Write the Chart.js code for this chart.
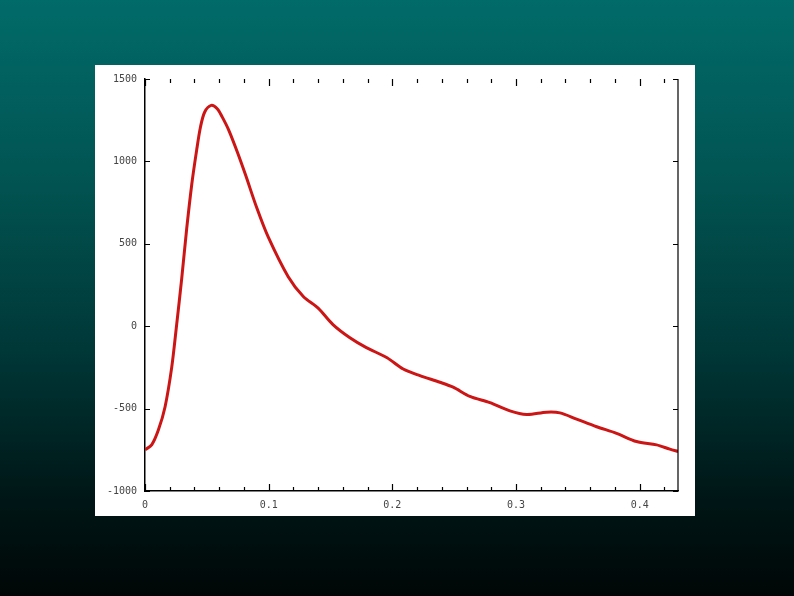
<!DOCTYPE html>
<html>
<head>
<meta charset="utf-8">
<script src="https://cdn.jsdelivr.net/npm/chart.js@4.4.1/dist/chart.umd.min.js"></script>
<style>
  html, body { margin: 0; padding: 0; }
  body {
    width: 794px; height: 596px; overflow: hidden; position: relative;
    background: linear-gradient(to bottom, #016b69 0%, #015452 30%, #003636 60%, #001818 82%, #000606 100%);
  }
  #panel { position: absolute; left: 95px; top: 65px; width: 600px; height: 451px; background: #fff; }
  #panel canvas { display: block; }
</style>
</head>
<body>
<div id="panel"><canvas id="chart" width="600" height="451"></canvas></div>
<script>
// curve
const timeS = [0, 0.0054, 0.0108, 0.0162, 0.0216, 0.0256, 0.0297, 0.0337, 0.0378, 0.0418, 0.0449, 0.0483,
  0.0535, 0.0584, 0.0624, 0.0677, 0.0745, 0.0812, 0.0903, 0.0997, 0.1158, 0.128, 0.14, 0.152, 0.1657, 0.179,
  0.1954, 0.2088, 0.2223, 0.2385, 0.2492, 0.2627, 0.2789, 0.2951, 0.3086, 0.3247, 0.3355, 0.349,
  0.3652, 0.3813, 0.3975, 0.4137, 0.4244, 0.4311];
const signal = [-750, -720, -630, -490, -250, 10, 290, 590, 860, 1070, 1210, 1300,
  1340, 1320, 1270, 1190, 1060, 920, 720, 540, 300, 180, 110, 10, -70, -130,
  -190, -260, -300, -340, -370, -426, -464, -514, -536, -522, -526, -564,
  -610, -650, -700, -720, -746, -760];

const xLabels = [0, 0.1, 0.2, 0.3, 0.4];
const xMinor = [0.02, 0.04, 0.06, 0.08, 0.12, 0.14, 0.16, 0.18, 0.22, 0.24, 0.26, 0.28,
  0.32, 0.34, 0.36, 0.38, 0.42];
const yLabels = [1500, 1000, 500, 0, -500, -1000];

// inward tick marks on all four sides, right border line
const frameTicks = {
  id: 'frameTicks',
  afterDraw(chart) {
    const { ctx, chartArea: a, scales: { x, y } } = chart;
    ctx.save();
    ctx.strokeStyle = '#000';
    ctx.lineWidth = 1.2;
    ctx.beginPath();
    ctx.moveTo(a.right, a.top);
    ctx.lineTo(a.right, a.bottom);
    xMinor.concat(xLabels).forEach(v => {
      const px = Math.round(x.getPixelForValue(v)) + 0.5;
      const len = xLabels.includes(v) ? 7 : 4;
      ctx.moveTo(px, a.bottom);
      ctx.lineTo(px, a.bottom - len);
      ctx.moveTo(px, a.top);
      ctx.lineTo(px, a.top + len);
    });
    yLabels.forEach(v => {
      const py = Math.round(y.getPixelForValue(v)) + 0.5;
      ctx.moveTo(a.left, py);
      ctx.lineTo(a.left + 5, py);
      ctx.moveTo(a.right, py);
      ctx.lineTo(a.right - 5, py);
    });
    ctx.stroke();
    ctx.restore();
  }
};

new Chart(document.getElementById('chart'), {
  type: 'line',
  data: {
    datasets: [{
      data: timeS.map((t, i) => ({ x: t, y: signal[i] })),
      borderColor: '#cc1515',
      borderWidth: 3,
      pointRadius: 0,
      tension: 0.3,
      fill: false
    }]
  },
  options: {
    responsive: false,
    animation: false,
    layout: { padding: { top: 10, right: 17, left: 0, bottom: 0 } },
    plugins: { legend: { display: false }, tooltip: { enabled: false } },
    scales: {
      x: {
        type: 'linear',
        min: 0,
        max: 0.431,
        afterBuildTicks: s => { s.ticks = xLabels.map(v => ({ value: v })); },
        afterFit: s => { s.height = 25; },
        grid: { drawOnChartArea: false, drawTicks: false },
        border: { color: '#000', width: 1.5 },
        ticks: {
          padding: 8,
          maxRotation: 0,
          color: '#444',
          font: { family: 'DejaVu Sans Mono', size: 10 },
          callback: v => String(Math.round(v * 10) / 10)
        }
      },
      y: {
        min: -1000,
        max: 1500,
        afterBuildTicks: s => { s.ticks = yLabels.map(v => ({ value: v })); },
        afterFit: s => { s.width = 50; },
        grid: { drawOnChartArea: false, drawTicks: false },
        border: { color: '#000', width: 1.5 },
        ticks: {
          padding: 8,
          color: '#444',
          font: { family: 'DejaVu Sans Mono', size: 10 },
          callback: v => String(v)
        }
      }
    }
  },
  plugins: [frameTicks]
});
</script>
</body>
</html>
